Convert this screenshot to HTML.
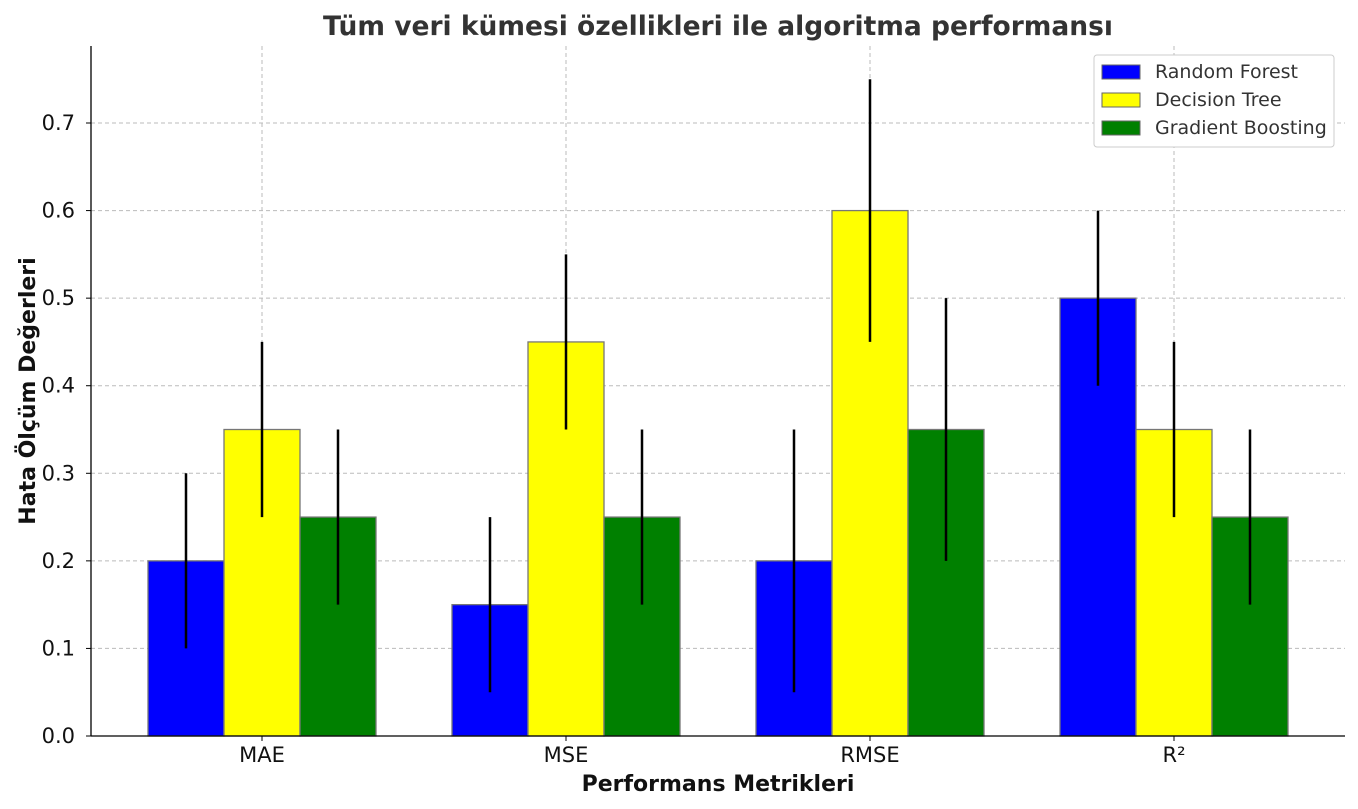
<!DOCTYPE html>
<html><head><meta charset="utf-8"><style>
html,body{margin:0;padding:0;background:#fff;}
svg{display:block;font-family:"DejaVu Sans","Liberation Sans",sans-serif;}
</style></head><body>
<svg id="chart" width="1358" height="809" viewBox="0 0 1358 809">
<text x="718" y="35" text-anchor="middle" font-size="26.5" font-weight="bold" fill="#333">Tüm veri kümesi özellikleri ile algoritma performansı</text>
<g id="grid"></g><g id="bars"></g><g id="errs"></g><g id="axes"></g>
<text x="718" y="791" text-anchor="middle" font-size="22" font-weight="bold" fill="#111">Performans Metrikleri</text>
<text transform="translate(35,391) rotate(-90)" text-anchor="middle" font-size="22" font-weight="bold" fill="#111">Hata Ölçüm Değerleri</text>
<g>
<rect x="1094" y="55" width="240" height="92" fill="#fff" stroke="#ccc" rx="3"/>
<g><rect x="1102" y="65" width="38" height="14" fill="#0000ff" stroke="#666"/><text x="1155" y="78" font-size="19" fill="#333">Random Forest</text></g>
<g><rect x="1102" y="93" width="38" height="14" fill="#ffff00" stroke="#666"/><text x="1155" y="106" font-size="19" fill="#333">Decision Tree</text></g>
<g><rect x="1102" y="121" width="38" height="14" fill="#008000" stroke="#666"/><text x="1155" y="134" font-size="19" fill="#333">Gradient Boosting</text></g>
</g>
</svg>
<script>
const categories=["MAE","MSE","RMSE","R²"];
const rfValues=[0.2,0.15,0.2,0.5];
const dtValues=[0.35,0.45,0.6,0.35];
const gbValues=[0.25,0.25,0.35,0.25];
const rfErr=[0.1,0.1,0.15,0.1];
const dtErr=[0.1,0.1,0.15,0.1];
const gbErr=[0.1,0.1,0.15,0.1];
const yTicks=[0,0.1,0.2,0.3,0.4,0.5,0.6,0.7];
const NS="http://www.w3.org/2000/svg";
const X0=91,X1=1345,Y0=736,YT=46;
const y=v=>Y0-v*875.7;
const xc=i=>262+i*304;
const BW=76;
function mk(t,a,p){const e=document.createElementNS(NS,t);for(const k in a)e.setAttribute(k,a[k]);p.appendChild(e);return e;}
const grid=document.getElementById('grid'),bars=document.getElementById('bars'),errs=document.getElementById('errs'),axes=document.getElementById('axes');
yTicks.forEach(t=>{
 const g=mk('line',{x1:X0,x2:X1,y1:y(t),y2:y(t),stroke:'#bbb','stroke-dasharray':'4,3','stroke-width':1},grid);
 
 
 mk('line',{x1:X0-5,x2:X0,y1:y(t),y2:y(t),stroke:'#000'},axes);
 const tx=mk('text',{x:X0-16,y:y(t)+7,'text-anchor':'end','font-size':21,fill:'#111'},axes);
 tx.textContent=t.toFixed(1);
 
 
});
categories.forEach((c,i)=>{
 const g=mk('line',{x1:xc(i),x2:xc(i),y1:YT,y2:Y0,stroke:'#bbb','stroke-dasharray':'4,3'},grid);
 
 
 mk('line',{x1:xc(i),x2:xc(i),y1:Y0,y2:Y0+5,stroke:'#000'},axes);
 const tx=mk('text',{x:xc(i),y:Y0+26,'text-anchor':'middle','font-size':21,fill:'#111'},axes);
 tx.textContent=c;
 
 
});
const series=[[rfValues,rfErr,'#0000ff',-1,'rf'],[dtValues,dtErr,'#ffff00',0,'dt'],[gbValues,gbErr,'#008000',1,'gb']];
series.forEach(([vals,er,col,off,nm])=>{
 vals.forEach((v,i)=>{
  const cx=xc(i)+off*BW;
  const r=mk('rect',{x:cx-BW/2,y:y(v),width:BW,height:Y0-y(v),fill:col,stroke:'#777','stroke-width':1.3},bars);
  
  
  const l=mk('line',{x1:cx,x2:cx,y1:y(v-er[i]),y2:y(v+er[i]),stroke:'#000','stroke-width':2.5},errs);
  
  
 });
});
mk('line',{x1:X0,x2:X0,y1:YT,y2:Y0,stroke:'#000','stroke-width':1.3},axes);
mk('line',{x1:X0,x2:X1,y1:Y0,y2:Y0,stroke:'#000','stroke-width':1.3},axes);
</script>
</body></html>
